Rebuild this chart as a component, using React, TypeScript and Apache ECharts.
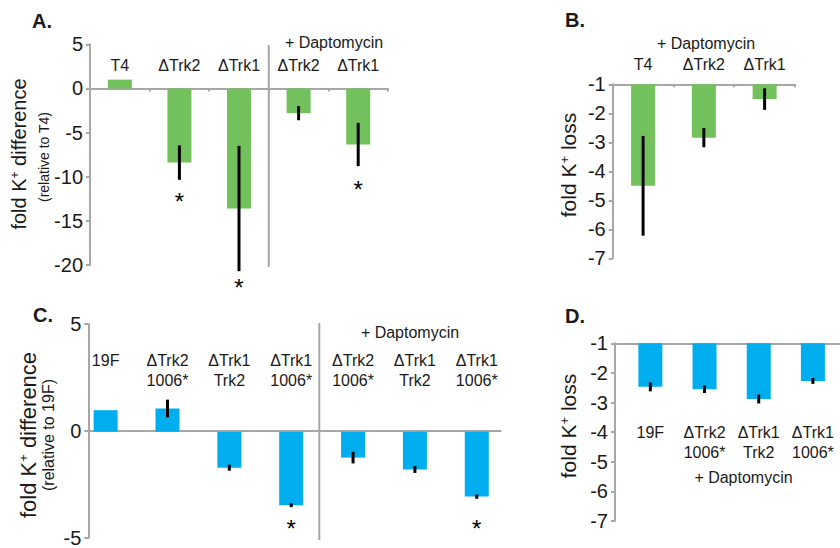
import React, { useEffect, useRef } from 'react';
import * as echarts from 'echarts';

// ---------- data ----------
const catsA = ['T4', 'ΔTrk2', 'ΔTrk1', 'ΔTrk2', 'ΔTrk1'];
const valsA = [1.0, -8.4, -13.6, -2.8, -6.35];
const errA = [0, 1.95, 7.1, 0.8, 2.45];
const sigA: (number | null)[] = [null, -12.8, -22.6, null, -11.4];
const ticksA = [-20, -15, -10, -5, 0, 5];

const catsB = ['T4', 'ΔTrk2', 'ΔTrk1'];
const valsB = [-4.5, -2.84, -1.51];
const errB = [1.72, 0.33, 0.37];
const ticksB = [-7, -6, -5, -4, -3, -2, -1];

const catsC = ['19F', 'ΔTrk2\n1006*', 'ΔTrk1\nTrk2', 'ΔTrk1\n1006*', 'ΔTrk2\n1006*', 'ΔTrk1\nTrk2', 'ΔTrk1\n1006*'];
const valsC = [1.0, 1.08, -1.67, -3.41, -1.2, -1.75, -3.01];
const errC = [0, 0.41, 0.14, 0.09, 0.27, 0.16, 0.1];
const sigC: (number | null)[] = [null, null, null, -4.5, null, null, -4.5];
const ticksC = [-5, 0, 5];

const catsD = ['19F', 'ΔTrk2\n1006*', 'ΔTrk1\nTrk2', 'ΔTrk1\n1006*'];
const valsD = [-2.47, -2.55, -2.88, -2.27];
const errD = [0.15, 0.13, 0.15, 0.1];
const ticksD = [-7, -6, -5, -4, -3, -2, -1];

const dapto = '+ Daptomycin';

// ---------- styles ----------
const FONT = '"Liberation Sans", Arial, Helvetica, sans-serif';
const AXIS = '#a7a7a7';
const TXT = '#1a1a1a';
const GREEN = '#73c15d';
const BLUE = '#00aeef';

const gridA = { left: 90, top: 44.3, width: 298, height: 220.7 };
const gridB = { left: 612.7, top: 84.3, width: 182.3, height: 174 };
const gridCf = { left: 88.3, top: 324, width: 412.4, height: 215.5 };
const gridCd = { left: 74.7, top: 324, width: 433, height: 215.5 };
const gridDf = { left: 615, top: 343.3, width: 240, height: 177.7 };
const gridDd = { left: 623.25, top: 343.3, width: 222, height: 177.7 };

const yAx = (grid: number, ticks: number[], show = true) => ({
  type: 'value',
  gridIndex: grid,
  min: ticks[0],
  max: ticks[ticks.length - 1],
  interval: ticks[1] - ticks[0],
  show,
  axisLine: { show: true, lineStyle: { color: AXIS, width: 2 } },
  axisTick: { show: true, length: 4, lineStyle: { color: AXIS, width: 2 } },
  axisLabel: { fontSize: 20, color: TXT, fontFamily: FONT, margin: 7 },
  splitLine: { show: false },
});

const labelAx = (grid: number, cats: string[], margin: number, va: string) => ({
  type: 'category',
  gridIndex: grid,
  position: 'top',
  data: cats,
  axisLine: { show: false },
  axisTick: { show: false },
  axisLabel: {
    fontSize: 16,
    lineHeight: 20,
    color: TXT,
    fontFamily: FONT,
    margin,
    verticalAlign: va,
    interval: 0,
  },
  splitLine: { show: false },
});

const barSeries = (xi: number, yi: number, vals: number[], color: string) => ({
  type: 'bar',
  xAxisIndex: xi,
  yAxisIndex: yi,
  data: vals,
  barWidth: 24,
  itemStyle: { color },
  silent: true,
  z: 2,
});

const errSeries = (xi: number, yi: number, vals: number[], errs: number[]) => ({
  type: 'custom',
  xAxisIndex: xi,
  yAxisIndex: yi,
  silent: true,
  z: 5,
  data: vals.map((v, i) => [i, v, errs[i]]),
  encode: { x: 0, y: 1 },
  renderItem: (params: any, api: any) => {
    const i = params.dataIndex;
    const v = api.value(1);
    const e = api.value(2);
    if (!e) return { type: 'group', children: [] };
    const p1 = api.coord([i, v + e]);
    const p2 = api.coord([i, v - e]);
    return {
      type: 'line',
      shape: { x1: p1[0], y1: p1[1], x2: p2[0], y2: p2[1] },
      style: { stroke: '#000', lineWidth: 3 },
    };
  },
});

const sigSeries = (xi: number, yi: number, sig: (number | null)[]) => ({
  type: 'custom',
  xAxisIndex: xi,
  yAxisIndex: yi,
  silent: true,
  z: 6,
  data: sig.map((s, i) => (s == null ? [i, NaN] : [i, s])).filter((d) => !isNaN(d[1] as number)),
  encode: { x: 0, y: 1 },
  renderItem: (params: any, api: any) => {
    const p = api.coord([api.value(0), api.value(1)]);
    return {
      type: 'text',
      x: p[0],
      y: p[1],
      style: { text: '*', fontSize: 24, fontFamily: FONT, fill: '#000', align: 'center', verticalAlign: 'middle' },
    };
  },
});

const txt = (x: number, y: number, text: string, fontSize = 16, bold = false) => ({
  type: 'text',
  x,
  y,
  silent: true,
  style: {
    text,
    fontSize,
    fontFamily: FONT,
    fontWeight: bold ? 'bold' : 'normal',
    fill: TXT,
    align: 'center',
    verticalAlign: 'middle',
  },
});

const vTitle = (x: number, y: number, pre: string, post: string, fontSize: number) => ({
  type: 'text',
  x,
  y,
  rotation: Math.PI / 2,
  silent: true,
  style: {
    text: `{a|${pre}}{s|+}{a|${post}}`,
    align: 'center',
    verticalAlign: 'middle',
    rich: {
      a: { fontSize, fontFamily: FONT, fill: TXT },
      s: { fontSize: Math.round(fontSize * 0.6), fontFamily: FONT, fill: TXT, verticalAlign: 'top' },
    },
  },
});

const vSub = (x: number, y: number, text: string, fontSize: number) => ({
  ...txt(x, y, text, fontSize),
  rotation: Math.PI / 2,
});

const sepLine = (x: number, y1: number, y2: number) => ({
  type: 'line',
  silent: true,
  shape: { x1: x, y1, x2: x, y2 },
  style: { stroke: AXIS, lineWidth: 2 },
});

const option: any = {
  animation: false,
  backgroundColor: '#fff',
  grid: [gridA, gridB, gridCf, gridCd, gridDf, gridDd],
  xAxis: [
    // 0: A zero line
    {
      type: 'category',
      gridIndex: 0,
      data: catsA,
      axisLine: { onZero: true, lineStyle: { color: AXIS, width: 2 } },
      axisTick: { show: true, length: 3, lineStyle: { color: AXIS, width: 2 } },
      axisLabel: { show: false },
    },
    // 1: A labels
    labelAx(0, catsA, -20.7, 'middle'),
    // 2: B axis + labels
    {
      type: 'category',
      gridIndex: 1,
      position: 'top',
      data: catsB,
      axisLine: { onZero: false, lineStyle: { color: AXIS, width: 2 } },
      axisTick: { show: true, inside: true, length: 3, lineStyle: { color: AXIS, width: 2 } },
      axisLabel: { fontSize: 16, color: TXT, fontFamily: FONT, margin: 19.8, verticalAlign: 'middle' },
    },
    // 3: C frame
    {
      type: 'category',
      gridIndex: 2,
      data: catsC,
      axisLine: { onZero: true, lineStyle: { color: AXIS, width: 2 } },
      axisTick: { show: false },
      axisLabel: { show: false },
    },
    // 4: C data / labels
    labelAx(3, catsC, -26, 'top'),
    // 5: D frame
    {
      type: 'category',
      gridIndex: 4,
      position: 'top',
      data: catsD,
      axisLine: { onZero: false, lineStyle: { color: AXIS, width: 2 } },
      axisTick: { show: false },
      axisLabel: { show: false },
    },
    // 6: D data / labels
    labelAx(5, catsD, -78.7, 'top'),
  ],
  yAxis: [
    yAx(0, ticksA),
    yAx(1, ticksB),
    yAx(2, ticksC),
    yAx(3, ticksC, false),
    yAx(4, ticksD),
    yAx(5, ticksD, false),
  ],
  series: [
    barSeries(0, 0, valsA, GREEN),
    errSeries(0, 0, valsA, errA),
    sigSeries(0, 0, sigA),
    barSeries(2, 1, valsB, GREEN),
    errSeries(2, 1, valsB, errB),
    barSeries(4, 3, valsC, BLUE),
    errSeries(4, 3, valsC, errC),
    sigSeries(4, 3, sigC),
    barSeries(6, 5, valsD, BLUE),
    errSeries(6, 5, valsD, errD),
  ],
  graphic: [
    txt(42, 21, 'A.', 20, true),
    txt(575, 20, 'B.', 20, true),
    txt(43, 315, 'C.', 20, true),
    txt(575, 316, 'D.', 20, true),
    txt(334, 42.7, dapto),
    txt(706, 43, dapto),
    txt(410, 332, dapto),
    txt(743.5, 477, dapto),
    sepLine(gridA.left + (3 * gridA.width) / 5, 45, 267),
    sepLine(319.3, 323, 540),
    vTitle(19, 154, 'fold K', ' difference', 20),
    vSub(44, 157, '(relative to T4)', 14),
    vTitle(568, 165, 'fold K', ' loss', 21),
    vTitle(28, 435, 'fold K', ' difference', 22),
    vSub(48, 435, '(relative to 19F)', 16),
    vTitle(568, 426, 'fold K', ' loss', 21),
  ],
};

export default function App() {
  const ref = useRef<HTMLDivElement>(null);
  useEffect(() => {
    const chart = echarts.init(ref.current!, null, { renderer: 'svg', width: 840, height: 548 });
    chart.setOption(option);
    return () => chart.dispose();
  }, []);
  return (
    <div
      ref={ref}
      style={{ position: 'fixed', left: 0, top: 0, width: 840, height: 548, background: '#fff' }}
    />
  );
}
